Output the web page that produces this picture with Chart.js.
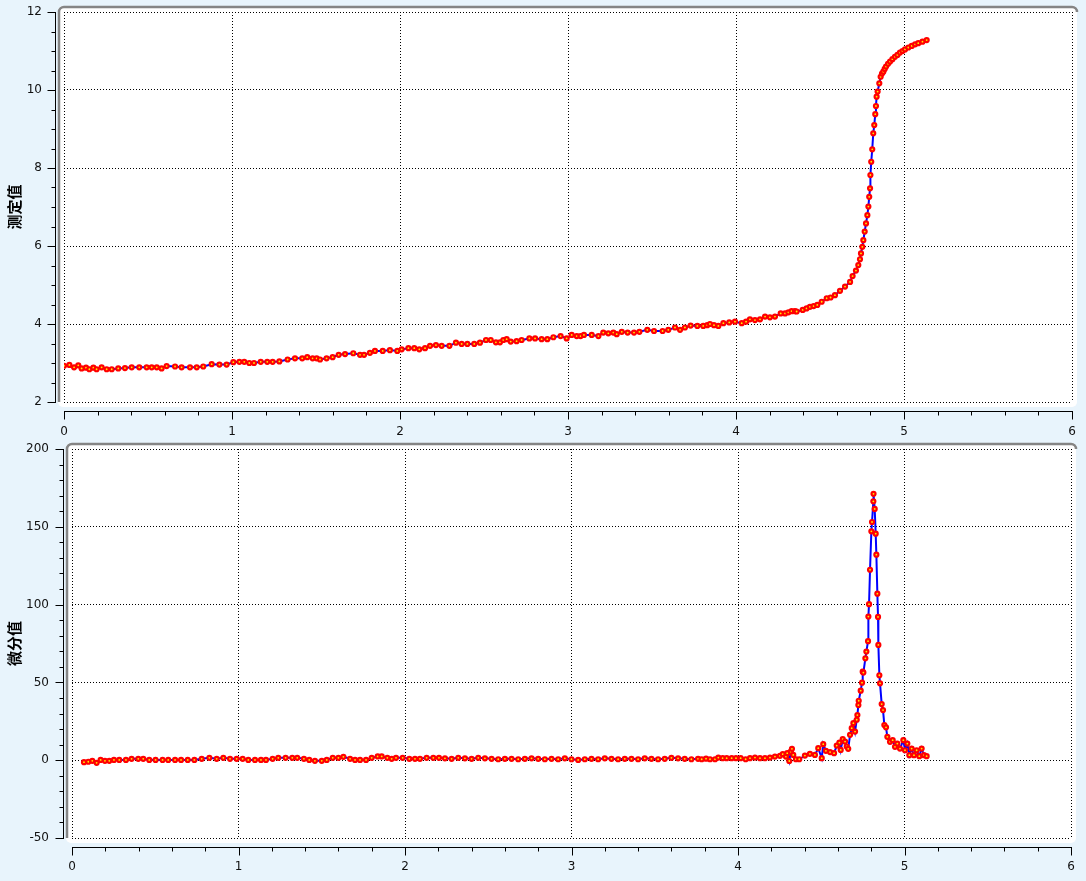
<!DOCTYPE html>
<html>
<head>
<meta charset="utf-8">
<script src="https://cdn.jsdelivr.net/npm/chart.js@4.4.1/dist/chart.umd.min.js"></script>
<style>
  html, body { margin: 0; padding: 0; background: #e8f4fc; }
  #wrap { position: relative; width: 1086px; height: 881px; overflow: hidden; }
  .pane { position: absolute; left: 0; }
</style>
</head>
<body>
<div id="wrap">
  <div class="pane" style="top:0"><canvas id="topChart" width="1086" height="440"></canvas></div>
  <div class="pane" style="top:440px"><canvas id="bottomChart" width="1086" height="441"></canvas></div>
</div>
<script>
// measured value (top panel)
const measuredX = [
  0.000,0.032,0.060,0.085,0.105,0.131,0.151,0.175,0.194,0.224,
  0.254,0.284,0.323,0.363,0.403,0.448,0.492,0.522,0.552,0.581,
  0.611,0.661,0.700,0.750,0.790,0.829,0.879,0.925,0.968,1.008,
  1.044,1.073,1.103,1.131,1.171,1.210,1.242,1.282,1.331,1.375,
  1.418,1.448,1.480,1.504,1.524,1.563,1.599,1.635,1.673,1.722,
  1.762,1.786,1.821,1.851,1.897,1.940,1.984,2.010,2.050,2.085,
  2.115,2.149,2.179,2.214,2.248,2.294,2.333,2.367,2.401,2.442,
  2.476,2.512,2.540,2.571,2.595,2.615,2.635,2.659,2.694,2.724,
  2.770,2.804,2.843,2.877,2.913,2.956,2.992,3.022,3.052,3.075,
  3.095,3.141,3.181,3.210,3.240,3.270,3.290,3.320,3.355,3.393,
  3.425,3.472,3.512,3.563,3.597,3.637,3.667,3.696,3.730,3.770,
  3.805,3.829,3.845,3.869,3.895,3.925,3.960,3.994,4.034,4.060,
  4.083,4.113,4.143,4.173,4.202,4.232,4.266,4.292,4.312,4.331,
  4.351,4.361,4.397,4.420,4.440,4.462,4.484,4.510,4.540,4.563,
  4.589,4.619,4.649,4.679,4.694,4.714,4.728,4.738,4.744,4.752,
  4.758,4.766,4.774,4.782,4.788,4.793,4.798,4.800,4.805,4.811,
  4.817,4.823,4.829,4.833,4.837,4.843,4.853,4.861,4.869,4.877,
  4.885,4.893,4.905,4.917,4.931,4.946,4.961,4.976,4.991,5.006,
  5.026,5.046,5.066,5.085,5.110,5.135
];
const measuredY = [
  2.93,2.95,2.89,2.94,2.86,2.88,2.84,2.88,2.84,2.89,
  2.84,2.84,2.86,2.87,2.89,2.89,2.89,2.89,2.89,2.86,
  2.92,2.91,2.89,2.89,2.89,2.91,2.97,2.96,2.96,3.02,
  3.03,3.03,3.00,3.00,3.03,3.03,3.03,3.04,3.09,3.12,
  3.12,3.15,3.12,3.12,3.09,3.12,3.15,3.21,3.23,3.25,
  3.21,3.21,3.26,3.31,3.31,3.33,3.31,3.35,3.38,3.38,
  3.35,3.38,3.44,3.46,3.44,3.44,3.52,3.49,3.49,3.49,
  3.52,3.59,3.59,3.53,3.53,3.59,3.61,3.55,3.56,3.59,
  3.63,3.63,3.61,3.61,3.66,3.69,3.63,3.72,3.69,3.69,
  3.72,3.72,3.69,3.78,3.76,3.78,3.74,3.80,3.78,3.78,
  3.80,3.85,3.82,3.82,3.85,3.91,3.85,3.91,3.96,3.95,
  3.95,3.97,4.00,3.97,3.95,4.02,4.04,4.06,4.02,4.06,
  4.12,4.10,4.12,4.19,4.17,4.19,4.27,4.27,4.30,4.33,
  4.33,4.32,4.36,4.40,4.44,4.46,4.49,4.57,4.66,4.68,
  4.74,4.85,4.96,5.08,5.23,5.37,5.51,5.66,5.81,5.98,
  6.15,6.37,6.58,6.79,7.01,7.26,7.48,7.82,8.16,8.48,
  8.89,9.10,9.38,9.59,9.83,9.96,10.17,10.34,10.42,10.47,
  10.54,10.60,10.67,10.73,10.79,10.85,10.90,10.96,11.00,11.04,
  11.09,11.13,11.17,11.20,11.24,11.28
];

// differential value (bottom panel)
const diffX = [
  0.072,0.098,0.122,0.148,0.172,0.198,0.224,0.252,0.284,0.324,
  0.358,0.398,0.428,0.464,0.502,0.544,0.578,0.619,0.655,0.695,
  0.735,0.779,0.825,0.869,0.909,0.949,0.989,1.025,1.059,1.099,
  1.135,1.165,1.205,1.239,1.283,1.323,1.353,1.393,1.425,1.459,
  1.500,1.530,1.566,1.600,1.630,1.670,1.700,1.730,1.766,1.800,
  1.836,1.860,1.894,1.920,1.946,1.986,2.026,2.060,2.090,2.130,
  2.170,2.204,2.240,2.280,2.320,2.360,2.400,2.440,2.480,2.520,
  2.560,2.600,2.640,2.680,2.720,2.760,2.800,2.840,2.880,2.920,
  2.960,3.000,3.040,3.080,3.120,3.160,3.200,3.240,3.280,3.320,
  3.360,3.400,3.440,3.480,3.520,3.560,3.600,3.640,3.680,3.720,
  3.760,3.782,3.808,3.832,3.862,3.882,3.908,3.932,3.962,3.988,
  4.016,4.046,4.072,4.102,4.132,4.162,4.192,4.222,4.252,4.269,
  4.288,4.296,4.308,4.317,4.324,4.332,4.348,4.368,4.402,4.432,
  4.462,4.482,4.503,4.512,4.528,4.553,4.577,4.593,4.609,4.617,
  4.629,4.643,4.653,4.662,4.673,4.683,4.693,4.703,4.713,4.717,
  4.723,4.725,4.737,4.745,4.749,4.753,4.765,4.771,4.781,4.783,
  4.787,4.793,4.801,4.805,4.813,4.814,4.821,4.827,4.831,4.837,
  4.841,4.843,4.849,4.853,4.863,4.871,4.879,4.889,4.897,4.913,
  4.929,4.943,4.957,4.973,4.993,5.003,5.017,5.029,5.043,5.057,
  5.073,5.089,5.103,5.117,5.133
];
const diffY = [
  -1.3,-1.0,-0.4,-1.7,0.2,-0.4,-0.4,0.2,0.2,0.2,
  0.9,0.9,0.9,0.2,0.2,0.2,0.2,0.2,0.2,0.2,
  0.2,0.9,1.5,0.9,1.5,0.9,0.9,0.9,0.2,0.2,
  0.2,0.2,0.9,1.5,1.5,1.5,1.5,0.9,0.2,-0.4,
  -0.4,0.2,1.5,1.5,2.2,0.9,0.2,0.2,0.2,1.5,
  2.4,2.4,1.5,0.9,1.5,1.5,0.9,0.9,0.9,1.5,
  1.5,1.5,1.2,0.9,1.5,1.2,0.9,1.5,1.2,0.9,
  0.6,0.9,0.9,0.6,0.9,1.2,0.9,0.6,0.9,0.6,
  1.2,0.6,0.2,0.6,0.9,0.6,1.2,0.9,0.6,0.9,
  0.9,0.6,1.2,0.9,0.6,0.9,1.5,1.2,0.9,0.6,
  0.9,0.6,1.0,0.6,0.6,1.7,1.3,1.3,1.3,1.3,
  1.3,0.6,1.3,1.7,1.3,1.3,1.7,2.3,2.8,3.9,
  2.3,4.5,-0.5,5.5,7.3,3.4,0.6,0.6,3.0,4.1,
  3.4,7.7,1.3,10.3,6.0,5.2,4.5,9.4,11.3,6.6,
  13.5,12.0,8.8,7.3,16.3,20.6,23.8,18.4,26.0,29.0,
  35.4,38.2,44.7,49.8,56.9,56.3,65.5,69.8,76.5,92.3,
  100.3,122.4,147.1,153.1,166.4,171.2,161.5,145.6,132.1,107.0,
  92.1,74.1,54.6,49.4,36.1,32.2,22.6,21.1,15.0,11.8,
  12.9,8.6,10.7,7.5,12.9,6.4,10.7,3.2,7.5,3.2,
  6.4,2.6,7.5,3.2,2.6
];

const xTicksRange = [0, 6];
const measuredRange = [2, 12];
const diffRange = [-50, 200];

const BG = "#e8f4fc";
const tickFont = { family: "DejaVu Sans", size: 12 };
const titleFont = { family: "Noto Sans CJK SC", size: 15, weight: "bold" };

const toPoints = (xs, ys) => xs.map((x, i) => ({ x, y: ys[i] }));

// panel background, rounded white plot area, outer axes with minor ticks
const panelPlugin = {
  id: "panel",
  beforeDraw(chart, args, o) {
    const { ctx, chartArea: a } = chart;
    ctx.save();
    ctx.fillStyle = BG;
    ctx.fillRect(0, 0, chart.width, chart.height);
    const x0 = a.left - o.padLeft, y0 = a.top - 6, x1 = a.right + 5, y1 = a.bottom + 5, r = 5;
    ctx.beginPath();
    ctx.roundRect(x0, y0, x1 - x0, y1 - y0, r);
    ctx.fillStyle = "#ffffff";
    ctx.fill();
    ctx.strokeStyle = "#858585";
    ctx.lineWidth = 2.5;
    ctx.beginPath();
    ctx.moveTo(x0 + 1, y1 - r);
    ctx.lineTo(x0 + 1, y0 + r);
    ctx.arcTo(x0 + 1, y0 + 1, x0 + r, y0 + 1, r);
    ctx.lineTo(x1 - r, y0 + 1);
    ctx.arcTo(x1, y0 + 1, x1, y0 + r, r);
    ctx.stroke();
    ctx.restore();
  },
  afterDraw(chart, args, o) {
    const { ctx, chartArea: a, scales } = chart;
    const xs = scales.x, ys = scales.y;
    const ax = a.left - 9 + 0.5, ay = a.bottom + 9 + 0.5;
    ctx.save();
    ctx.strokeStyle = "#000";
    ctx.lineWidth = 1;
    ctx.beginPath();
    ctx.moveTo(ax, Math.round(ys.getPixelForValue(ys.max)));
    ctx.lineTo(ax, Math.round(ys.getPixelForValue(ys.min)) + 1);
    const nY = Math.round((ys.max - ys.min) / o.minorY);
    for (let i = 0; i <= nY; i += 1) {
      const v = ys.min + i * o.minorY;
      const p = Math.round(ys.getPixelForValue(v)) + 0.5;
      const len = i % o.perMajorY === 0 ? 8 : 4;
      ctx.moveTo(ax - len, p);
      ctx.lineTo(ax, p);
    }
    ctx.moveTo(Math.round(xs.getPixelForValue(xs.min)), ay);
    ctx.lineTo(Math.round(xs.getPixelForValue(xs.max)) + 1, ay);
    const nX = Math.round((xs.max - xs.min) / o.minorX);
    for (let i = 0; i <= nX; i += 1) {
      const v = xs.min + i * o.minorX;
      const p = Math.round(xs.getPixelForValue(v)) + 0.5;
      const len = i % o.perMajorX === 0 ? 8 : 4;
      ctx.moveTo(p, ay);
      ctx.lineTo(p, ay + len);
    }
    ctx.stroke();
    ctx.restore();
  },
};

const makeChart = (id, points, yRange, yStep, title, layout, panelOpts) => {
  return new Chart(document.getElementById(id), {
    type: "line",
    data: {
      datasets: [{
        data: points,
        borderColor: "#0000ff",
        borderWidth: 2,
        tension: 0,
        pointRadius: 2,
        pointBorderWidth: 2.2,
        pointBorderColor: "#ff0000",
        pointBackgroundColor: "#ffee00",
        pointHoverRadius: 2,
      }],
    },
    options: {
      responsive: false,
      devicePixelRatio: 1,
      animation: false,
      parsing: false,
      layout: { padding: { top: 10, right: 10, left: 0, bottom: 0 } },
      plugins: { legend: { display: false }, tooltip: { enabled: false }, panel: panelOpts },
      scales: {
        x: {
          type: "linear",
          min: xTicksRange[0],
          max: xTicksRange[1],
          // the label offset goes in tickLength (invisible ticks), so that it does not widen the layout padding
          ticks: { stepSize: 1, font: tickFont, color: "#111", padding: 1, maxRotation: 0 },
          grid: { color: "#000", lineWidth: 1, drawTicks: true, tickLength: layout.xPad - 1, tickColor: "rgba(0,0,0,0)" },
          border: { display: false, dash: [1, 2] },
          afterFit: (s) => { s.height = layout.xHeight; },
        },
        y: {
          type: "linear",
          min: yRange[0],
          max: yRange[1],
          ticks: { stepSize: yStep, font: tickFont, color: "#111", padding: 1 },
          grid: { color: "#000", lineWidth: 1, drawTicks: true, tickLength: layout.yPad - 1, tickColor: "rgba(0,0,0,0)" },
          border: { display: false, dash: [1, 2] },
          title: { display: true, text: title, font: titleFont, color: "#000", padding: { top: 5, bottom: 0 } },
          afterFit: (s) => { s.width = layout.yWidth; },
        },
      },
    },
    plugins: [panelPlugin],
  });
};

// nudge layout padding until the plot area sits where the reference has it
const fitArea = (chart, target) => {
  for (let k = 0; k < 4; k += 1) {
    const a = chart.chartArea;
    const p = chart.options.layout.padding;
    chart.options.layout.padding = {
      top: p.top + (target.top - a.top),
      left: p.left + (target.left - a.left),
      right: p.right + (a.right - target.right),
      bottom: p.bottom + (a.bottom - target.bottom),
    };
    chart.update();
  }
};

const topChart = makeChart(
  "topChart",
  toPoints(measuredX, measuredY),
  measuredRange, 2, "测定值",
  { yWidth: 64, xHeight: 38, xPad: 23, yPad: 22 },
  { padLeft: 6, minorY: 0.5, perMajorY: 4, minorX: 0.2, perMajorX: 5 }
);
fitArea(topChart, { top: 12, left: 64, right: 1072, bottom: 402 });

const bottomChart = makeChart(
  "bottomChart",
  toPoints(diffX, diffY),
  diffRange, 50, "微分值",
  { yWidth: 72, xHeight: 43, xPad: 22, yPad: 23 },
  { padLeft: 6, minorY: 10, perMajorY: 5, minorX: 0.2, perMajorX: 5 }
);
fitArea(bottomChart, { top: 9, left: 72, right: 1071, bottom: 398 });
</script>
</body>
</html>
